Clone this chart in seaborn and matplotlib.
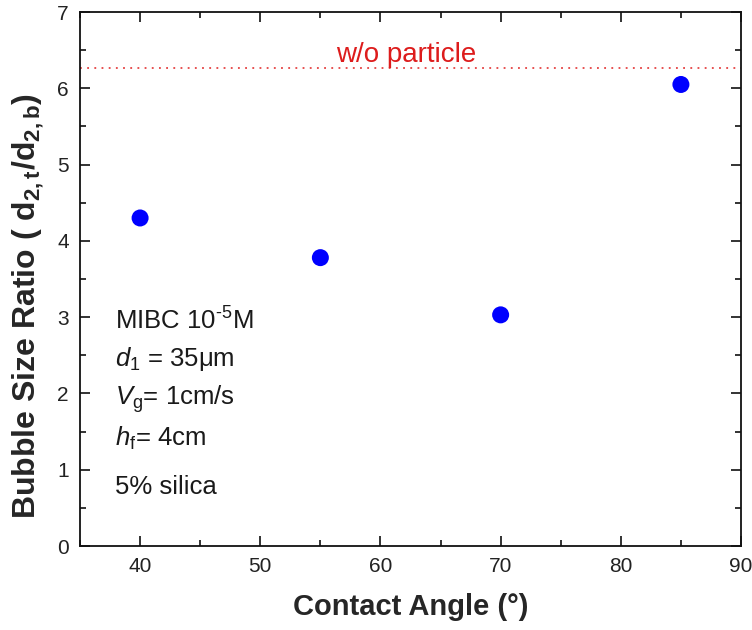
import matplotlib
matplotlib.use("Agg")
import matplotlib.pyplot as plt
from matplotlib.ticker import MultipleLocator
import pandas as pd
import seaborn as sns

# Measured bubble size ratios vs. particle contact angle
contact_angle = [40, 55, 70, 85]
size_ratio = [4.30, 3.78, 3.03, 6.05]
no_particle_ratio = 6.27

conditions = [
    "MIBC 10$^{\\mathdefault{\u2010}\\mathdefault{5}}$M",
    r"$d_{\mathdefault{1}}$ = 35$\mathrm{\mu}$m",
    r"$V_{\mathdefault{g}}$= 1cm/s",
    r"$h_{\mathdefault{f}}$= 4cm",
    "5% silica",
]
condition_y = [2.84, 2.36, 1.85, 1.32, 0.68]

sns.set_style("ticks")
plt.rcParams["font.family"] = ["Liberation Sans", "DejaVu Sans"]
plt.rcParams["mathtext.fontset"] = "custom"
plt.rcParams["mathtext.rm"] = "Liberation Sans"
plt.rcParams["mathtext.it"] = "Liberation Sans:italic"
plt.rcParams["mathtext.bf"] = "Liberation Sans:bold"

df = pd.DataFrame({"angle": contact_angle, "ratio": size_ratio})

fig = plt.figure(figsize=(7.52, 6.30), dpi=100)
ax = fig.add_axes([80 / 752, 1 - 546 / 630, (741 - 80) / 752, (546 - 12) / 630])

sns.scatterplot(data=df, x="angle", y="ratio", ax=ax, color="#0000ff",
                s=150, edgecolor="none", zorder=3)

ax.axhline(no_particle_ratio, color="#e02020", linestyle=(0, (1.2, 3.5)), linewidth=1.1)
ax.text(62.1, 6.34, "w/o particle", color="#dd1c1c", fontsize=20,
        ha="center", va="baseline")

for txt, yb in zip(conditions, condition_y):
    ax.text(37.9, yb, txt, fontsize=18.5, ha="left", va="baseline", color="#1a1a1a")

ax.set_xlim(35, 90)
ax.set_ylim(0, 7)
ax.xaxis.set_major_locator(MultipleLocator(10))
ax.xaxis.set_minor_locator(MultipleLocator(5))
ax.yaxis.set_major_locator(MultipleLocator(1))
ax.yaxis.set_minor_locator(MultipleLocator(0.5))
ax.tick_params(which="both", direction="in", top=True, right=True, width=1.2,
               colors="#111111", labelcolor="#222222")
ax.tick_params(which="major", length=7, labelsize=15, pad=8)
ax.tick_params(which="minor", length=4)
for sp in ax.spines.values():
    sp.set_linewidth(1.3)
    sp.set_color("#111111")
    sp.set_visible(True)

ax.set_xlabel("Contact Angle (\u00b0)", fontsize=21, fontweight="bold", labelpad=12)
ax.set_ylabel("")
fig.text(28 / 752, 1 - 306 / 630,
         r"Bubble Size Ratio ( d$_{\mathbf{2,t}}$/d$_{\mathbf{2,b}}$)",
         fontsize=23, fontweight="bold", rotation=90, ha="center", va="center")

fig.savefig("out.png", dpi=100)
